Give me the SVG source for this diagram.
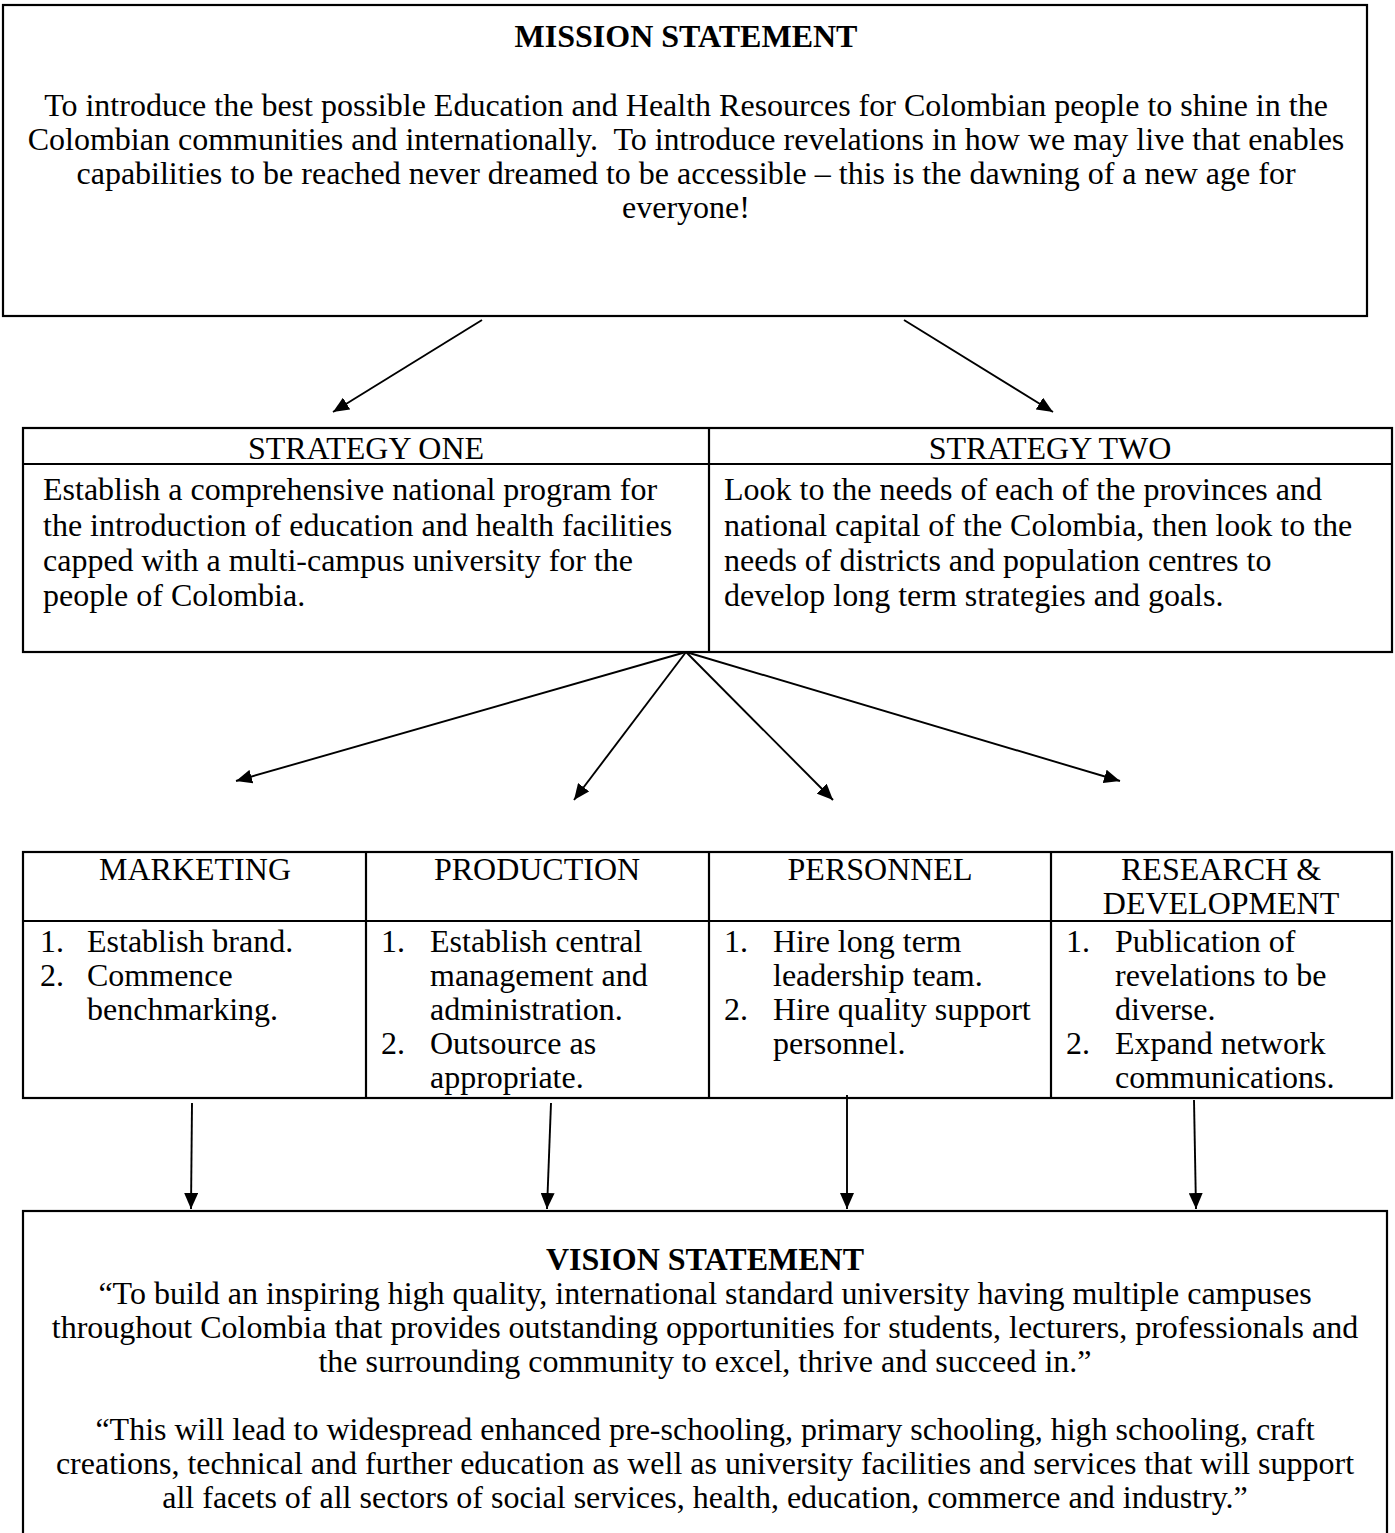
<svg xmlns="http://www.w3.org/2000/svg" width="1395" height="1533" viewBox="0 0 1395 1533">
<defs>
<marker id="ah" markerUnits="userSpaceOnUse" markerWidth="17" markerHeight="14" refX="16" refY="7" orient="auto">
<path d="M0,0 L16,7 L0,14 z" fill="#000"/>
</marker>
<style>
.box{fill:#fff;stroke:#000;stroke-width:2.2}
.ln{stroke:#000;stroke-width:2.2;fill:none}
.t{font-family:"Liberation Serif","Times New Roman",serif;font-size:32px;fill:#000}
.c{text-anchor:middle}
.b{font-weight:bold}
.arr{stroke:#000;stroke-width:1.9;fill:none;marker-end:url(#ah)}
</style>
</defs>
<rect width="1395" height="1533" fill="#fff"/>

<g id="mission">
<rect class="box" x="3" y="5" width="1364" height="311"/>
<text class="t c b" x="686" y="47">MISSION STATEMENT</text>
<text class="t c" x="686" y="116">To introduce the best possible Education and Health Resources for Colombian people to shine in the</text>
<text class="t c" x="686" y="150" xml:space="preserve">Colombian communities and internationally.  To introduce revelations in how we may live that enables</text>
<text class="t c" x="686" y="184">capabilities to be reached never dreamed to be accessible – this is the dawning of a new age for</text>
<text class="t c" x="686" y="218">everyone!</text>
</g>

<g id="strategies">
<rect class="box" x="23" y="428" width="1369" height="224"/>
<line class="ln" x1="709" y1="428" x2="709" y2="652"/>
<line class="ln" x1="23" y1="464" x2="1392" y2="464"/>
<g id="strategy-one">
<text class="t c" x="366" y="459">STRATEGY ONE</text>
<text class="t" x="43" y="500">Establish a comprehensive national program for</text>
<text class="t" x="43" y="536">the introduction of education and health facilities</text>
<text class="t" x="43" y="571">capped with a multi-campus university for the</text>
<text class="t" x="43" y="606">people of Colombia.</text>
</g>
<g id="strategy-two">
<text class="t c" x="1050" y="459">STRATEGY TWO</text>
<text class="t" x="724" y="500">Look to the needs of each of the provinces and</text>
<text class="t" x="724" y="536">national capital of the Colombia, then look to the</text>
<text class="t" x="724" y="571">needs of districts and population centres to</text>
<text class="t" x="724" y="606">develop long term strategies and goals.</text>
</g>
</g>

<g id="functions">
<rect class="box" x="23" y="852" width="1369" height="246"/>
<line class="ln" x1="366" y1="852" x2="366" y2="1098"/>
<line class="ln" x1="709" y1="852" x2="709" y2="1098"/>
<line class="ln" x1="1051" y1="852" x2="1051" y2="1098"/>
<line class="ln" x1="23" y1="921" x2="1392" y2="921"/>
<g id="marketing">
<text class="t c" x="195" y="880">MARKETING</text>
<text class="t" x="40" y="952">1.</text><text class="t" x="87" y="952">Establish brand.</text>
<text class="t" x="40" y="986">2.</text><text class="t" x="87" y="986">Commence</text>
<text class="t" x="87" y="1020">benchmarking.</text>
</g>
<g id="production">
<text class="t c" x="537" y="880">PRODUCTION</text>
<text class="t" x="381" y="952">1.</text><text class="t" x="430" y="952">Establish central</text>
<text class="t" x="430" y="986">management and</text>
<text class="t" x="430" y="1020">administration.</text>
<text class="t" x="381" y="1054">2.</text><text class="t" x="430" y="1054">Outsource as</text>
<text class="t" x="430" y="1088">appropriate.</text>
</g>
<g id="personnel">
<text class="t c" x="880" y="880">PERSONNEL</text>
<text class="t" x="724" y="952">1.</text><text class="t" x="773" y="952">Hire long term</text>
<text class="t" x="773" y="986">leadership team.</text>
<text class="t" x="724" y="1020">2.</text><text class="t" x="773" y="1020">Hire quality support</text>
<text class="t" x="773" y="1054">personnel.</text>
</g>
<g id="research">
<text class="t c" x="1221" y="880">RESEARCH &amp;</text>
<text class="t c" x="1221" y="914">DEVELOPMENT</text>
<text class="t" x="1066" y="952">1.</text><text class="t" x="1115" y="952">Publication of</text>
<text class="t" x="1115" y="986">revelations to be</text>
<text class="t" x="1115" y="1020">diverse.</text>
<text class="t" x="1066" y="1054">2.</text><text class="t" x="1115" y="1054">Expand network</text>
<text class="t" x="1115" y="1088">communications.</text>
</g>
</g>

<g id="vision">
<rect class="box" x="23" y="1211" width="1364" height="340"/>
<text class="t c b" x="705" y="1270">VISION STATEMENT</text>
<text class="t c" x="705" y="1304">“To build an inspiring high quality, international standard university having multiple campuses</text>
<text class="t c" x="705" y="1338">throughout Colombia that provides outstanding opportunities for students, lecturers, professionals and</text>
<text class="t c" x="705" y="1372">the surrounding community to excel, thrive and succeed in.”</text>
<text class="t c" x="705" y="1440">“This will lead to widespread enhanced pre-schooling, primary schooling, high schooling, craft</text>
<text class="t c" x="705" y="1474">creations, technical and further education as well as university facilities and services that will support</text>
<text class="t c" x="705" y="1508">all facets of all sectors of social services, health, education, commerce and industry.”</text>
</g>

<g id="connectors">
<line class="arr" x1="482" y1="320" x2="333" y2="412"/>
<line class="arr" x1="904" y1="320" x2="1053" y2="412"/>
<line class="arr" x1="686" y1="652" x2="236" y2="781"/>
<line class="arr" x1="686" y1="652" x2="574" y2="800"/>
<line class="arr" x1="686" y1="652" x2="833" y2="800"/>
<line class="arr" x1="686" y1="652" x2="1120" y2="781"/>
<line class="arr" x1="192" y1="1103" x2="191" y2="1209"/>
<line class="arr" x1="551" y1="1103" x2="547" y2="1209"/>
<line class="arr" x1="847" y1="1095" x2="847" y2="1209"/>
<line class="arr" x1="1194" y1="1100" x2="1196" y2="1209"/>
</g>
</svg>
